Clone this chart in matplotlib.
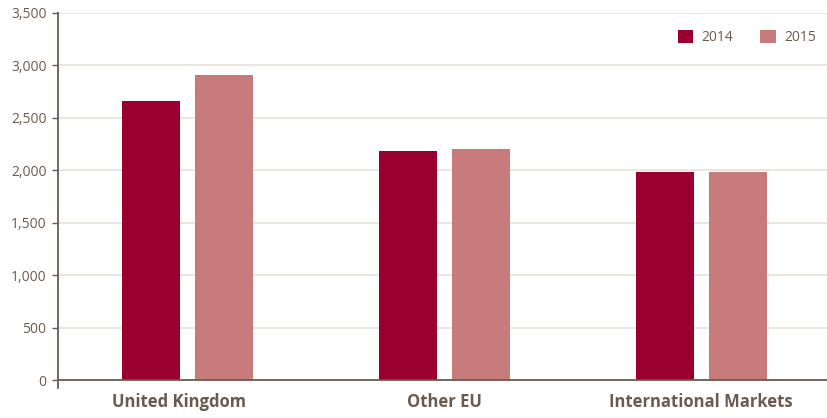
import matplotlib.pyplot as plt
import matplotlib.transforms as mtransforms
import numpy as np

# Data
regions = ['United Kingdom', 'Other EU', 'International Markets']
values_2014 = [2660, 2185, 1985]
values_2015 = [2910, 2202, 1987]
series_labels = ['2014', '2015']
yticks = [0, 500, 1000, 1500, 2000, 2500, 3000, 3500]

col_2014 = '#990030'
col_2015 = '#c87b7b'
text_col = '#6b5a4e'
grid_col = '#e8e0da'

plt.rcParams['font.family'] = ['Open Sans', 'DejaVu Sans']

fig = plt.figure(figsize=(8.27, 4.18), dpi=100)
ax = fig.add_axes([58 / 827, 1 - 388.4 / 418, 1 - 58 / 827, (388.4 - 13) / 418])

x = np.arange(len(regions))
width = 0.2257
offset = 0.142
ax.bar(x - offset, values_2014, width, color=col_2014, label=series_labels[0], zorder=3)
ax.bar(x + offset, values_2015, width, color=col_2015, label=series_labels[1], zorder=3)

ax.set_xlim(-0.504, 2.49)
ax.set_ylim(-80, 3500)
ax.set_yticks(yticks)
ax.set_yticklabels([f'{v:,}' for v in yticks])
ax.set_xticks(x)
ax.set_xticklabels(regions, fontweight='bold', fontsize=12)

# gridlines and baseline
for v in yticks[1:]:
    ax.axhline(v, color=grid_col, lw=1.2, zorder=1)
ax.axhline(0, color=text_col, lw=1.3, zorder=4)

for s in ['top', 'right', 'bottom']:
    ax.spines[s].set_visible(False)
ax.spines['left'].set_color(text_col)
ax.spines['left'].set_linewidth(1.3)

ax.tick_params(axis='y', colors=text_col, labelsize=10, length=4.3, width=1, pad=4)
ax.tick_params(axis='x', colors=text_col, length=0, pad=3)
for lab in ax.get_xticklabels():
    lab.set_color(text_col)

# first category label sits a little left of its bars in the original
uk = ax.get_xticklabels()[0]
uk.set_transform(uk.get_transform() + mtransforms.ScaledTranslation(-8 / 100, 0, fig.dpi_scale_trans))

leg = ax.legend(loc='upper right', ncol=2, frameon=False, fontsize=10,
                handlelength=1.1, handleheight=1.1, columnspacing=1.95,
                handletextpad=0.6, bbox_to_anchor=(1.0, 0.985), borderaxespad=0.4)
for t in leg.get_texts():
    t.set_color(text_col)

fig.savefig('out.png', dpi=100)
